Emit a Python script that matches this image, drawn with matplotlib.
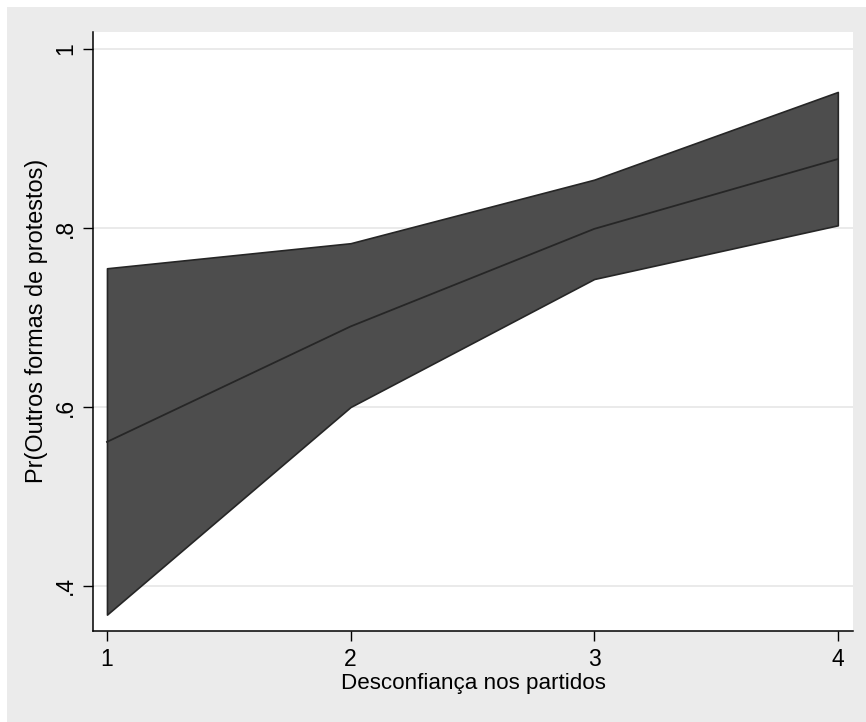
import matplotlib.pyplot as plt
from matplotlib.patches import Rectangle

plt.rcParams['font.family'] = ['Liberation Sans', 'DejaVu Sans']

desconfianca = [1, 2, 3, 4]
prob = [0.561, 0.690, 0.799, 0.877]
ic_inf = [0.368, 0.600, 0.743, 0.803]
ic_sup = [0.755, 0.783, 0.854, 0.952]

x_ticks = [1, 2, 3, 4]
y_ticks = [0.4, 0.6, 0.8, 1.0]
y_labels = ['.4', '.6', '.8', '1']

fig = plt.figure(figsize=(8.66, 7.22), dpi=100, facecolor='white')
# fundo cinza estilo Stata
fundo = Rectangle((7 / 866, 0), 1, 715 / 722, transform=fig.transFigure,
                  facecolor='#ebebeb', edgecolor='none', zorder=-10)
fig.add_artist(fundo)

ax = fig.add_axes([93 / 866, 91 / 722, 760 / 866, 599 / 722])
ax.set_zorder(1)
ax.set_facecolor('white')

ax.fill_between(desconfianca, ic_inf, ic_sup, facecolor='#4d4d4d',
                edgecolor='#262626', linewidth=1.2, zorder=2)
ax.plot(desconfianca, prob, color='#262626', linewidth=1.3, zorder=3)

ax.set_xlim(0.9426, 4.0624)
ax.set_ylim(0.3497, 1.019)

ax.set_xticks(x_ticks)
ax.set_yticks(y_ticks)
ax.set_yticklabels(y_labels, rotation=90, va='center')
ax.tick_params(axis='both', length=7.5, width=1, labelsize=16.5, colors='black')
ax.tick_params(axis='x', pad=5)
ax.tick_params(axis='y', pad=4)

ax.grid(axis='y', color='#e6e6e6', linewidth=1.2, zorder=1)
ax.grid(axis='x', visible=False)
ax.set_axisbelow(True)

for s in ['top', 'right']:
    ax.spines[s].set_visible(False)
for s in ['left', 'bottom']:
    ax.spines[s].set_linewidth(1.1)
    ax.spines[s].set_color('black')

ax.set_xlabel('Desconfiança nos partidos', fontsize=16.1, labelpad=1.5)
ax.set_ylabel('Pr(Outros formas de protestos)', fontsize=16.9)
ax.yaxis.set_label_coords(-0.059, 0.5175)

fig.savefig('out.png', dpi=100, facecolor=fig.get_facecolor())
